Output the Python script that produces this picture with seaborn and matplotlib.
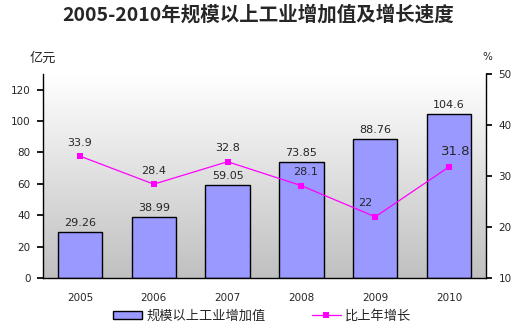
import numpy as np
import pandas as pd
import matplotlib
matplotlib.use("Agg")
import matplotlib.pyplot as plt
import seaborn as sns
from matplotlib.patches import Patch
from matplotlib.lines import Line2D
from matplotlib.colors import LinearSegmentedColormap

years = ["2005", "2006", "2007", "2008", "2009", "2010"]
value_added = [29.26, 38.99, 59.05, 73.85, 88.76, 104.6]
growth = [33.9, 28.4, 32.8, 28.1, 22, 31.8]
value_labels = ["29.26", "38.99", "59.05", "73.85", "88.76", "104.6"]
growth_labels = ["33.9", "28.4", "32.8", "28.1", "22", "31.8"]

title = "2005-2010年规模以上工业增加值及增长速度"
bar_name = "规模以上工业增加值"
line_name = "比上年增长"

sns.set_theme(style="white")
plt.rcParams['font.family'] = ['DejaVu Sans', 'Noto Sans CJK SC']
CJK = ['Noto Sans CJK SC', 'DejaVu Sans']

df = pd.DataFrame({"year": years, "value": value_added, "growth": growth})

fig = plt.figure(figsize=(5.25, 3.31), dpi=100)
ax = fig.add_axes([43/525, 1-278/331, (486-43)/525, (278-74)/331])

# gradient background
grad = np.linspace(0, 1, 256).reshape(-1, 1)
cmap = LinearSegmentedColormap.from_list("bg", ["#ffffff", "#c0c0c0"])
ax.imshow(grad, extent=[0, 1, 0, 1], transform=ax.transAxes, aspect="auto",
          cmap=cmap, origin="upper", zorder=0)

sns.barplot(data=df, x="year", y="value", ax=ax, color="#9999ff",
            edgecolor="black", linewidth=1.0, width=0.6, saturation=1, zorder=2)
ax.set_xlim(-0.5, 5.5)
ax.set_ylim(0, 130)
ax.set_yticks(range(0, 121, 20))
ax.set_xlabel("")
ax.set_ylabel("")
ax.set_xticks(np.arange(-0.5, 5.6, 1), minor=True)
ax.tick_params(axis="x", which="major", length=0, labelsize=7.5, pad=11)
ax.tick_params(axis="x", which="minor", length=3, direction="in", color="black")
ax.tick_params(axis="y", length=4, direction="out", left=True, labelsize=7.5, color="black", pad=5)
for s in ["left", "bottom"]:
    ax.spines[s].set_color("black")
    ax.spines[s].set_linewidth(1)
ax.spines["top"].set_visible(False)
ax.spines["right"].set_visible(False)

for i, (v, lab) in enumerate(zip(value_added, value_labels)):
    ax.annotate(lab, (i, v), xytext=(0, 3), textcoords="offset points",
                ha="center", va="bottom", fontsize=8, zorder=5)

ax2 = ax.twinx()
sns.lineplot(x=np.arange(len(years)), y=growth, ax=ax2, color="#ff00ff",
             marker="s", markersize=5, markeredgewidth=0, linewidth=0.9, zorder=4)
ax2.set_xlim(-0.5, 5.5)
ax2.set_ylim(10, 50)
ax2.set_yticks(range(10, 51, 10))
ax2.tick_params(axis="y", length=4, direction="out", right=True, labelsize=7.5, color="black", pad=5)
ax2.spines["right"].set_color("black")
ax2.spines["right"].set_linewidth(1)
for s in ["top", "left", "bottom"]:
    ax2.spines[s].set_visible(False)

offsets = [(0, 6), (0, 6), (0, 6), (3, 6), (-7, 6), (5, 6)]
for i, (g, lab) in enumerate(zip(growth, growth_labels)):
    ax2.annotate(lab, (i, g), xytext=offsets[i], textcoords="offset points",
                 ha="center", va="bottom", fontsize=8 if i != 5 else 9.5, zorder=5)

fig.text(258/525, 1-15/331, title, ha="center", va="center", fontsize=14,
         fontweight="bold", family=CJK)
fig.text(43/525, 1-58/331, "亿元", ha="center", va="center", fontsize=9.5, family=CJK)
fig.text(487/525, 1-57/331, "%", ha="center", va="center", fontsize=7.5)

handles = [Patch(facecolor="#9999ff", edgecolor="black", linewidth=1, label=bar_name),
           Line2D([], [], color="#ff00ff", marker="s", markersize=4, markeredgewidth=0,
                  linewidth=0.9, label=line_name)]
fig.legend(handles=handles, loc="center", bbox_to_anchor=(262/525, 1-316/331), ncol=2,
           frameon=False, prop={"family": CJK, "size": 9.5}, handlelength=2.2, handleheight=0.6,
           columnspacing=3.5, handletextpad=0.3)

fig.savefig("out.png", dpi=100)
